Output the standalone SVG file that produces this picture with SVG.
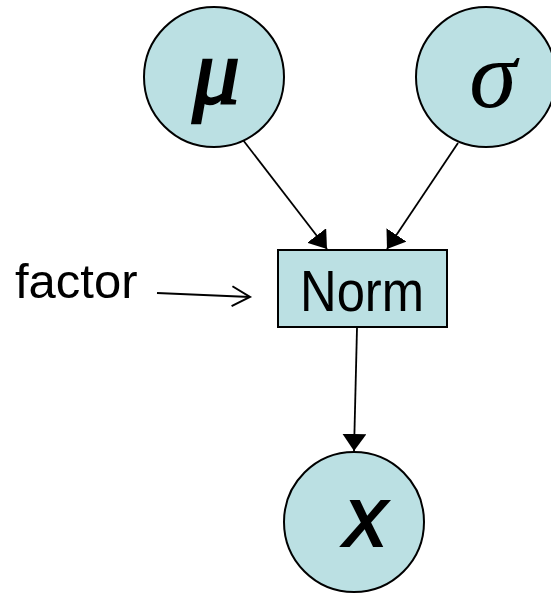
<svg xmlns="http://www.w3.org/2000/svg" width="551" height="593" viewBox="0 0 551 593">
<style>
.node{fill:#bbe0e3;stroke:#000;stroke-width:2}
.edge{stroke:#000;stroke-width:1.8;fill:none}
.lbl{font-family:"Liberation Sans",Arial,sans-serif;fill:#000}
.greek{font-family:"Liberation Serif","Times New Roman",serif;fill:#000}
</style>
<defs>
<marker id="tri" markerUnits="userSpaceOnUse" markerWidth="20" markerHeight="26" refX="17" refY="12" orient="auto">
<path d="M0,0 L17,12 L0,24 Z" fill="#000"/>
</marker>
<marker id="open" markerUnits="userSpaceOnUse" markerWidth="22" markerHeight="24" refX="19" refY="11" orient="auto">
<path d="M1,1 L19,11 L1,21" fill="none" stroke="#000" stroke-width="2"/>
</marker>
</defs>
<g id="connectors">
<line class="edge" x1="243" y1="140" x2="327" y2="249" marker-end="url(#tri)"/>
<line class="edge" x1="458" y1="143" x2="387" y2="249" marker-end="url(#tri)"/>
<line class="edge" x1="357" y1="328" x2="354" y2="451" marker-end="url(#tri)"/>
<line class="edge" x1="157" y1="293" x2="250" y2="297" marker-end="url(#open)"/>
</g>
<g id="mu">
<circle class="node" cx="214" cy="77" r="70"/>
<text class="greek" x="216" y="103" font-size="94" font-style="italic" stroke="#000" stroke-width="2.5" text-anchor="middle">μ</text>
</g>
<g id="sigma">
<circle class="node" cx="486" cy="77" r="70"/>
<text class="greek" x="493" y="107" font-size="96" font-style="italic" text-anchor="middle">σ</text>
</g>
<g id="norm">
<rect class="node" x="278" y="250" width="169" height="77"/>
<text class="lbl" x="300" y="311" font-size="58" textLength="124" lengthAdjust="spacingAndGlyphs">Norm</text>
</g>
<g id="x">
<circle class="node" cx="354" cy="522" r="70"/>
<text class="lbl" x="365" y="547" font-size="68" font-style="italic" font-weight="bold" text-anchor="middle">X</text>
</g>
<g id="factor">
<text class="lbl" x="15" y="298" font-size="49">factor</text>
</g>
</svg>
